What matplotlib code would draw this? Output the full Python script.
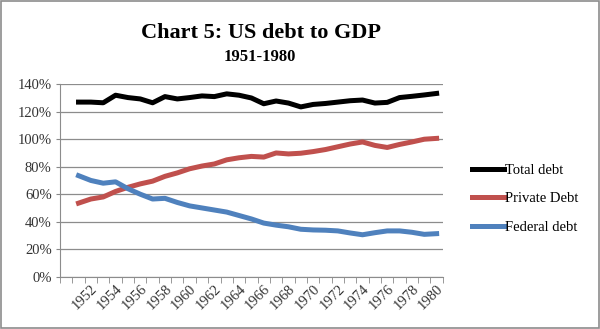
import matplotlib
matplotlib.use("Agg")
from matplotlib import pyplot as plt
from matplotlib.ticker import FuncFormatter

# US debt to GDP, 1951-1980 (percent)
years = list(range(1951, 1981))
total_debt = [127, 127, 126.5, 132, 130.3, 129.3, 126.5, 131, 129.3, 130.3,
              131.5, 131, 133, 132, 130, 125.8, 127.8, 126.3, 123.5, 125.3,
              126, 127, 128, 128.5, 126.3, 126.8, 130.3, 131.2, 132.2, 133.3]
private_debt = [53.5, 56.5, 58, 62, 65, 67.5, 69.5, 73, 75.5, 78.5,
                80.5, 82, 85, 86.5, 87.5, 87, 90, 89.3, 89.8, 91,
                92.5, 94.5, 96.5, 98, 95.5, 94, 96.2, 98, 100, 100.6]
federal_debt = [73.5, 70, 68, 69, 64, 60, 56.5, 57, 54, 51.5,
                50, 48.5, 47, 44.5, 42, 39, 37.5, 36.3, 34.5, 34,
                33.8, 33.3, 31.8, 30.5, 32, 33.3, 33.3, 32.3, 30.8, 31.3]
labels = ["Total debt", "Private Debt", "Federal debt"]
year_ticks = list(range(1952, 1981, 2))
y_ticks = list(range(0, 141, 20))

plt.rcParams['font.family'] = ['Liberation Serif', 'DejaVu Serif']

fig = plt.figure(figsize=(6, 3.29), dpi=100)
ax = fig.add_axes([0.1, 0.159, 0.638, 0.585])

ax.plot(years, total_debt, color='black', linewidth=3.6, label=labels[0])
ax.plot(years, private_debt, color='#C0504D', linewidth=3.6, label=labels[1])
ax.plot(years, federal_debt, color='#4F81BD', linewidth=3.6, label=labels[2])

ax.set_ylim(0, 140)
ax.set_yticks(y_ticks)
ax.yaxis.set_major_formatter(FuncFormatter(lambda v, p: "%d%%" % v))
ax.set_xlim(1949.6, 1980.5)
ax.set_xticks(year_ticks)
ax.set_xticks([y + 0.5 for y in range(1949, 1981)], minor=True)
ax.set_xticklabels([str(y) for y in year_ticks], rotation=45, ha='right',
                   rotation_mode='anchor', fontsize=10.5, color='#333333')
ax.tick_params(axis='x', which='major', length=0, pad=4)
ax.tick_params(axis='x', which='minor', length=4, color='#888888')
ax.tick_params(axis='y', length=3, color='#888888', labelsize=10.5,
               labelcolor='#333333', pad=3)

# gridlines and axes
ax.grid(axis='y', color='#8c8c8c', linewidth=0.9)
ax.set_axisbelow(True)
for s in ['top', 'right']:
    ax.spines[s].set_visible(False)
for s in ['left', 'bottom']:
    ax.spines[s].set_color('#8c8c8c')

fig.text(0.435, 0.9, "Chart 5: US debt to GDP", ha='center', va='center',
         fontsize=16, fontweight='bold')
fig.text(0.433, 0.826, "1951-1980", ha='center', va='center',
         fontsize=12, fontweight='bold')

ax.legend(loc='center left', bbox_to_anchor=(1.043, 0.405), frameon=False,
          fontsize=10.5, handlelength=2.2, handletextpad=0.05, labelspacing=1.05)

# outer border
fig.add_artist(plt.Rectangle((0.001, 0.002), 0.997, 0.996, transform=fig.transFigure,
                             fill=False, edgecolor='#8c8c8c', linewidth=1.2))

fig.savefig("out.png", dpi=100)
